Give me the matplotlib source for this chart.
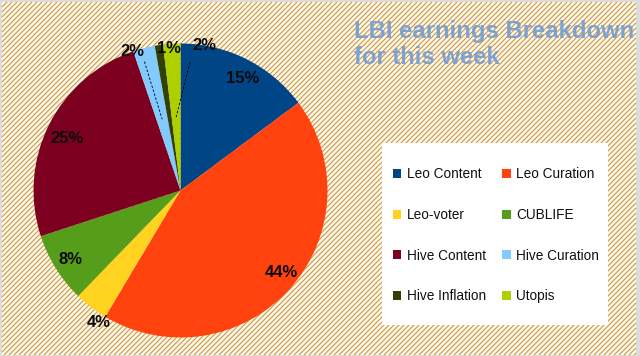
import numpy as np
import matplotlib
matplotlib.use("Agg")
import matplotlib.pyplot as plt
from matplotlib.patches import Rectangle, Patch
from matplotlib.collections import LineCollection

# ---------------- data ----------------
categories = ["Leo Content", "Leo Curation", "Leo-voter", "CUBLIFE",
              "Hive Content", "Hive Curation", "Hive Inflation", "Utopis"]
values = [14.8, 43.7, 3.7, 7.7, 24.8, 2.4, 0.9, 1.9]
title_text = "LBI earnings Breakdown\nfor this week"

# ---------------- style ----------------
colors = ["#004586", "#ff420e", "#ffd320", "#579d1c",
          "#7e0021", "#83caff", "#314004", "#aecf00"]
# label radius (fraction of pie radius) and angular nudge (deg) per slice
label_r = [0.875, 0.88, 1.055, 0.884, 0.852, 1.0, 0.97, 1.0]
label_dang = [-2.4, 3.0, 5.8, 0.0, 2.0, 4.7, -4.0, -12.6]
# leader line start offsets from label centre (axes units), None = no leader
leader_off = [None, None, None, None, None, (0.082, -0.068), None, (-0.095, -0.116)]

W, H, DPI = 640, 356, 100
plt.rcParams["font.family"] = ["Liberation Sans", "DejaVu Sans"]
fig = plt.figure(figsize=(W / DPI, H / DPI), dpi=DPI)
fig.patch.set_facecolor("#dcdcdc")

# background with diagonal hatch
bg = fig.add_axes([0, 0, 1, 1])
bg.set_xlim(0, W)
bg.set_ylim(H, 0)
bg.axis("off")
x0, y0, x1, y1 = 2, 2, 636, 355
bg.add_patch(Rectangle((x0, y0), x1 - x0, y1 - y0, facecolor="#fffbe8",
                       edgecolor="none", zorder=0))
segs = []
step = 5.0
c = x0 + y0
while c < x1 + y1:
    pts = []
    for (xa, ya) in [(x0, c - x0), (x1, c - x1), (c - y0, y0), (c - y1, y1)]:
        if x0 - 1e-9 <= xa <= x1 + 1e-9 and y0 - 1e-9 <= ya <= y1 + 1e-9:
            pts.append((xa, ya))
    if len(pts) >= 2:
        pts = sorted(pts)
        segs.append([pts[0], pts[-1]])
    c += step
bg.add_collection(LineCollection(segs, colors="#cc944c", linewidths=0.8, zorder=1))

# legend box
bg.add_patch(Rectangle((382, 143), 226, 182, facecolor="white",
                       edgecolor="none", zorder=2))

# title
bg.text(354, 20, title_text, fontsize=17.2, fontweight="bold", color="#7ea2cf",
        ha="left", va="top", linespacing=1.14, zorder=3)

# pie
cx, cy, R = 180.5, 190.5, 147.0
ax = fig.add_axes([(cx - R) / W, (H - cy - R) / H, 2 * R / W, 2 * R / H])
ax.axis("off")
wedges, _ = ax.pie(values, colors=colors, startangle=90, counterclock=False,
                   wedgeprops=dict(linewidth=0))
ax.set_xlim(-1, 1)
ax.set_ylim(-1, 1)
ax.set_aspect("equal")

total = sum(values)
for i, w in enumerate(wedges):
    mid = 0.5 * (w.theta1 + w.theta2)
    ang = np.deg2rad(mid + label_dang[i])
    lx, ly = label_r[i] * np.cos(ang), label_r[i] * np.sin(ang)
    pct = values[i] / total * 100
    ax.text(lx, ly, f"{pct:.0f}%", ha="center", va="center", fontsize=12,
            fontweight="bold", color="#0a0a0a", zorder=5)
    if leader_off[i] is not None:
        ma = np.deg2rad(mid)
        ex, ey = 0.5 * np.cos(ma), 0.5 * np.sin(ma)
        dx, dy = leader_off[i]
        ax.plot([lx + dx, ex], [ly + dy, ey], ls=(0, (3, 2)), lw=0.6,
                color="black", zorder=4)

# legend (row-major order in two columns)
handles = [Patch(facecolor=c_, edgecolor="none") for c_ in colors]
order = list(range(0, 8, 2)) + list(range(1, 8, 2))
leg = fig.legend([handles[i] for i in order], [categories[i] for i in order],
                 ncol=2, loc="upper left",
                 bbox_to_anchor=(393 / W, 1 - 167.5 / H),
                 frameon=False, fontsize=9.8, borderpad=0, borderaxespad=0,
                 handlelength=0.6, handleheight=0.6, handletextpad=0.42,
                 labelspacing=1.95, columnspacing=1.2)
for t in leg.get_texts():
    t.set_color("#111111")

fig.savefig("out.png", dpi=DPI, facecolor=fig.get_facecolor())
